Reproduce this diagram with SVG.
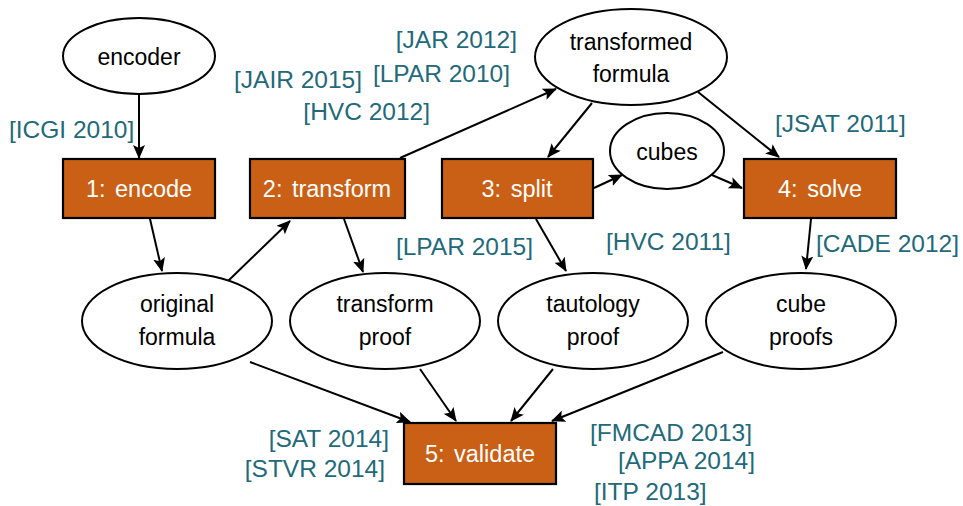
<svg xmlns="http://www.w3.org/2000/svg" width="963" height="506" viewBox="0 0 963 506">
<style>
.e{fill:#fff;stroke:#000;stroke-width:2}
.b{fill:#CA6016;stroke:#000;stroke-width:2.2}
.t{font-family:"Liberation Sans",Arial,sans-serif;font-size:23px;fill:#000;text-anchor:middle}
.w{font-family:"Liberation Sans",Arial,sans-serif;font-size:23.5px;fill:#fff;text-anchor:middle;word-spacing:3px}
.l{font-family:"Liberation Sans",Arial,sans-serif;font-size:24.5px;fill:#22697A}
.r{text-anchor:end}
.c line{stroke:#000;stroke-width:2;marker-end:url(#ah)}
</style>
<defs>
<marker id="ah" markerUnits="userSpaceOnUse" markerWidth="14" markerHeight="12" refX="13" refY="6" orient="auto">
<path d="M0,0 L14,6 L0,12 L3,6 Z" fill="#000"/>
</marker>
</defs>
<g class="c" id="connectors">
<line x1="139" y1="95" x2="139" y2="158"/>
<line x1="150" y1="219" x2="162" y2="271"/>
<line x1="227" y1="282" x2="290" y2="221"/>
<line x1="400" y1="158" x2="556" y2="89"/>
<line x1="344" y1="219" x2="363" y2="272"/>
<line x1="592" y1="103" x2="548" y2="157"/>
<line x1="594" y1="188" x2="622" y2="175"/>
<line x1="698" y1="92" x2="779" y2="157"/>
<line x1="712" y1="175" x2="742" y2="188"/>
<line x1="536" y1="219" x2="566" y2="271"/>
<line x1="811" y1="219" x2="806" y2="269"/>
<line x1="250" y1="362" x2="410" y2="422"/>
<line x1="420" y1="369" x2="456" y2="421"/>
<line x1="553" y1="369" x2="511" y2="421"/>
<line x1="723" y1="352" x2="552" y2="421"/>
</g>
<g id="encoder"><ellipse class="e" cx="139" cy="56" rx="76" ry="38"/><text class="t" x="139" y="65">encoder</text></g>
<g id="encode"><rect class="b" x="63" y="159" width="152" height="59"/><text class="w" x="139" y="197">1: encode</text></g>
<g id="transform"><rect class="b" x="250" y="159" width="155" height="59"/><text class="w" x="327" y="197">2: transform</text></g>
<g id="split"><rect class="b" x="442" y="159" width="151" height="59"/><text class="w" x="517" y="197">3: split</text></g>
<g id="solve"><rect class="b" x="744" y="159" width="152" height="59"/><text class="w" x="820" y="197">4: solve</text></g>
<g id="validate"><rect class="b" x="404" y="423" width="152" height="61"/><text class="w" x="480" y="462">5: validate</text></g>
<g id="transformed-formula"><ellipse class="e" cx="631" cy="57" rx="96" ry="48"/><text class="t" x="631" y="50">transformed</text><text class="t" x="631" y="82">formula</text></g>
<g id="cubes"><ellipse class="e" cx="667" cy="151" rx="57" ry="38"/><text class="t" x="667" y="160">cubes</text></g>
<g id="original-formula"><ellipse class="e" cx="177" cy="321" rx="95" ry="48"/><text class="t" x="177" y="312">original</text><text class="t" x="177" y="345">formula</text></g>
<g id="transform-proof"><ellipse class="e" cx="385" cy="321" rx="95" ry="48"/><text class="t" x="385" y="312">transform</text><text class="t" x="385" y="345">proof</text></g>
<g id="tautology-proof"><ellipse class="e" cx="593" cy="321" rx="95" ry="48"/><text class="t" x="593" y="312">tautology</text><text class="t" x="593" y="345">proof</text></g>
<g id="cube-proofs"><ellipse class="e" cx="801" cy="321" rx="95" ry="48"/><text class="t" x="801" y="312">cube</text><text class="t" x="801" y="345">proofs</text></g>
<g id="labels">
<text class="l" x="9" y="138">[ICGI 2010]</text>
<text class="l r" x="517" y="48">[JAR 2012]</text>
<text class="l r" x="510" y="82">[LPAR 2010]</text>
<text class="l r" x="362" y="88">[JAIR 2015]</text>
<text class="l r" x="430" y="120">[HVC 2012]</text>
<text class="l" x="775" y="132">[JSAT 2011]</text>
<text class="l r" x="533" y="255">[LPAR 2015]</text>
<text class="l" x="606" y="250">[HVC 2011]</text>
<text class="l" x="816" y="252">[CADE 2012]</text>
<text class="l r" x="389" y="447">[SAT 2014]</text>
<text class="l r" x="385" y="477">[STVR 2014]</text>
<text class="l r" x="752" y="441">[FMCAD 2013]</text>
<text class="l r" x="755" y="469">[APPA 2014]</text>
<text class="l" x="594" y="500">[ITP 2013]</text>
</g>
</svg>
